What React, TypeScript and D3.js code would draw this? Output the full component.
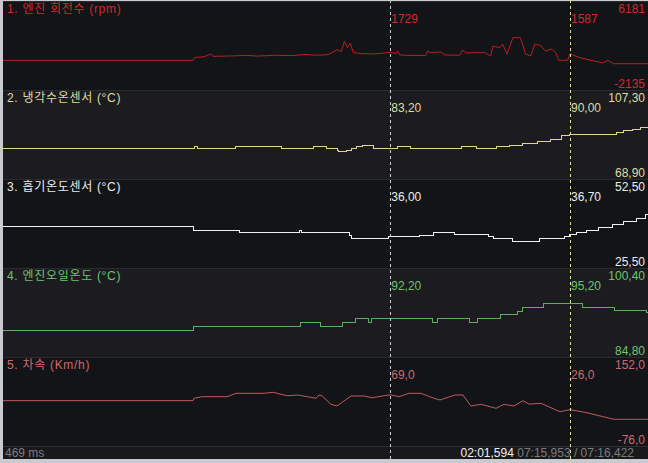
import { useEffect } from "react";
import * as d3 from "d3";

// time axis (seconds) and cursor positions
const timeDomain = [0, 436.4];
const cursorTimes = [262.0, 383.6];

const titles = [
  "1. 엔진 회전수 (rpm)",
  "2. 냉각수온센서 (°C)",
  "3. 흡기온도센서 (°C)",
  "4. 엔진오일온도 (°C)",
  "5. 차속 (Km/h)",
];
const mins = [-2135, 68.9, 25.5, 84.8, -76.0];
const maxs = [6181, 107.3, 52.5, 100.4, 152.0];
const decimals = [0, 2, 2, 2, 1];
const cursorValues = [
  [1729, 1587],
  [83.2, 90.0],
  [36.0, 36.7],
  [92.2, 95.2],
  [69.0, 26.0],
];

// [time, value]
const rpm: [number, number][] = [
  [0, 880], [128.6, 880], [129.5, 1180], [136, 1250], [140.5, 1560], [142, 1300],
  [155, 1350], [165, 1400], [172, 1330], [185, 1420], [195, 1380], [205, 1500],
  [212, 1420], [220, 1480], [226, 2000], [229, 1800], [231, 2900], [233, 2200],
  [235, 2700], [237, 1700], [242, 1600], [250, 1550], [256, 1620], [262, 1729],
  [266, 1600], [267, 1866], [268.5, 1450], [276, 1400], [286, 1390], [287.5, 1866],
  [289, 1700], [296, 1761], [299, 1445], [309, 1420], [311, 1972], [313, 1650],
  [318, 1690], [326, 1687], [330, 1340], [331.5, 2393], [336, 2214], [338, 2604],
  [341, 1551], [345, 3267], [350, 3267], [352, 2393], [353.5, 1551], [357, 1340],
  [360, 2604], [364, 2393], [367, 1866], [371, 2077], [374, 1687], [376, 887],
  [382, 887], [383.6, 1587], [385.5, 1445], [391, 1129], [400, 813], [406, 603],
  [409, 887], [413, 529], [436.4, 529],
];

const coolant: [number, number][] = [
  [0, 83.2], [129.5, 84.0], [131.5, 83.2], [157.0, 84.2], [188.1, 83.2],
  [210.4, 84.2], [219.0, 83.2], [226.0, 82.4], [227.3, 81.6], [232.7, 82.4],
  [235.5, 83.0], [239.0, 84.0], [242.9, 84.8], [251.0, 83.2], [266.6, 84.2],
  [275.5, 83.2], [309.9, 84.2], [320.7, 83.2], [333.6, 84.2], [343.0, 84.8],
  [351.8, 85.8], [361.3, 86.6], [370.1, 87.8], [378.2, 89.4], [383.6, 90.0],
  [414.8, 91.0], [420.1, 91.8], [425.6, 92.5], [431.0, 93.5], [436.4, 94.0],
];

const intake: [number, number][] = [
  [0, 39.5], [129.2, 37.9], [159.7, 37.4], [200.9, 38.0], [201.8, 37.4],
  [234.1, 36.4], [236.0, 35.3], [261.0, 36.0], [281.5, 36.4], [291.6, 37.2],
  [305.8, 36.7], [328.2, 35.9], [332.2, 35.1], [344.4, 34.3], [362.7, 35.2],
  [379.6, 36.0], [383.6, 36.7], [387.7, 37.4], [395.1, 38.1], [403.2, 39.1],
  [412.1, 40.1], [420.1, 41.0], [428.3, 42.1], [434.4, 43.3], [436.4, 43.3],
];

const oil: [number, number][] = [
  [0, 89.9], [129.2, 90.6], [201.6, 91.5], [214.5, 90.6], [230.0, 91.5],
  [238.2, 92.2], [247.6, 91.4], [249.5, 92.2], [290.3, 91.4], [294.3, 92.2],
  [315.3, 91.4], [321.0, 92.2], [336.3, 92.9], [347.8, 93.5], [351.8, 94.3],
  [365.4, 95.2], [392.4, 94.3], [413.4, 93.7], [435.5, 93.3], [436.4, 93.3],
];

const speed: [number, number][] = [
  [0, 52], [128.6, 52], [129.2, 58.8], [134.6, 63.4], [151.6, 63.4], [157.6, 73.2],
  [176.6, 73.2], [182.7, 76.1], [192.2, 66.3], [199.6, 68.3], [211.8, 58.8],
  [213.8, 68.3], [215.8, 66.3], [221.9, 41.5], [226.0, 36.6], [230.0, 49.0],
  [235.5, 65.4], [244.3, 65.4], [249.7, 60.5], [262.0, 69.0], [267.9, 63.4],
  [274.7, 73.2], [282.8, 73.2], [291.6, 58.8], [295.7, 53.9], [305.8, 68.3],
  [311.2, 68.3], [316.6, 36.6], [323.4, 41.5], [333.6, 29.9], [339.0, 41.5],
  [345.7, 36.6], [351.8, 51.9], [355.9, 42.0], [364.0, 44.3], [370.1, 32.8],
  [376.9, 20.1], [383.6, 26.0], [395.1, 17.2], [406.0, 5.7], [413.4, -1.8],
  [436.4, -1.8],
];

const series = [rpm, coolant, intake, oil, speed];
const stepped = [false, true, true, true, false];

const textColors = ["#d12a2a", "#dcdca0", "#ececec", "#6cc46c", "#d06a6a"];
const lineColors = ["#b82020", "#d8d890", "#f0f0f0", "#5fae5f", "#c05a5a"];
const bgColors = ["#131417", "#1c1c20", "#131417", "#1c1c20", "#131417"];

const statusLeft = "469 ms";
const statusTime = "02:01,594";
const statusTotal = " 07:15,953 / 07:16,422";

const W = 648;
const H = 463;
const left = 3;
const top0 = 1;
const ph = 89;
const font = "'Liberation Sans', 'Noto Sans CJK KR', sans-serif";

const fmt = (v: number, dec: number) => d3.format(`.${dec}f`)(v).replace(".", ",").replace("−", "-");

export default function App() {
  useEffect(() => {
    document.body.style.margin = "0";
  }, []);

  const x = d3.scaleLinear().domain(timeDomain).range([left, W]);
  const statusTop = top0 + ph * 5;

  return (
    <svg width={W} height={H} style={{ display: "block", background: "#c9cad0" }} fontFamily={font}>
      {series.map((data, i) => {
        const top = top0 + ph * i;
        const y = d3.scaleLinear().domain([mins[i], maxs[i]]).range([top + ph - 1, top + 9]);
        const line = d3
          .line<[number, number]>()
          .x((d) => x(d[0]))
          .y((d) => y(d[1]))
          .curve(stepped[i] ? d3.curveStepAfter : d3.curveLinear);
        return (
          <g key={i}>
            <rect x={left} y={top} width={W - left} height={ph} fill={bgColors[i]} />
            <line x1={left} x2={W} y1={top + 0.5} y2={top + 0.5} stroke="#2a2b31" />
            <path
              d={line(data) ?? ""}
              fill="none"
              stroke={lineColors[i]}
              strokeWidth={1}
              shapeRendering={stepped[i] ? "crispEdges" : "auto"}
            />
            <text x={7} y={top + 12} fontSize={12} fill={textColors[i]} letterSpacing={0.7}>
              {titles[i]}
            </text>
            <text x={645} y={top + 12} fontSize={12} fill={textColors[i]} textAnchor="end">
              {fmt(maxs[i], decimals[i])}
            </text>
            <text x={645} y={top + ph - 2} fontSize={12} fill={textColors[i]} textAnchor="end">
              {fmt(mins[i], decimals[i])}
            </text>
            {cursorTimes.map((t, k) => (
              <text key={k} x={x(t) + 1} y={top + 22} fontSize={12} fill={textColors[i]}>
                {fmt(cursorValues[i][k], decimals[i])}
              </text>
            ))}
          </g>
        );
      })}

      {/* status bar */}
      <rect x={left} y={statusTop} width={W - left} height={13} fill="#19191c" />
      <line x1={left} x2={W} y1={statusTop + 0.5} y2={statusTop + 0.5} stroke="#2e2f35" />
      <text x={5} y={statusTop + 11} fontSize={12} fill="#7c7c80">
        {statusLeft}
      </text>
      <text x={634} y={statusTop + 11} fontSize={12} textAnchor="end">
        <tspan fill="#f2f2f2">{statusTime}</tspan>
        <tspan fill="#7c7c80">{statusTotal}</tspan>
      </text>

      {/* cursors */}
      {cursorTimes.map((t, k) => (
        <line
          key={k}
          x1={Math.round(x(t)) + 0.5}
          x2={Math.round(x(t)) + 0.5}
          y1={0}
          y2={H}
          stroke={k === 0 ? "#cfcfcf" : "#e4e49a"}
          strokeDasharray="3,3"
          strokeWidth={1}
        />
      ))}
    </svg>
  );
}
